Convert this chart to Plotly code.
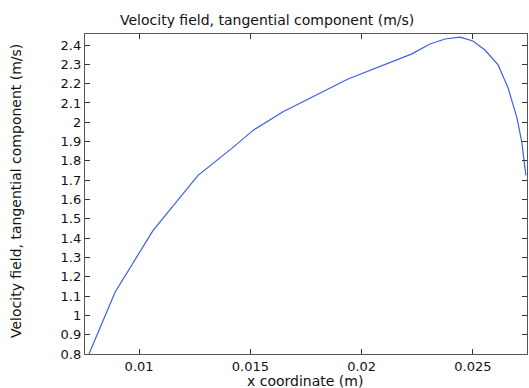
import plotly.graph_objects as go

x_m = [0.00775, 0.00892, 0.01063, 0.01265, 0.01418, 0.01512, 0.01647, 0.01939,
       0.02226, 0.02307, 0.02375, 0.02442, 0.02500, 0.02554, 0.02613, 0.02658,
       0.02698, 0.02720, 0.02738]
v_t = [0.800, 1.120, 1.440, 1.725, 1.866, 1.958, 2.054, 2.224,
       2.354, 2.405, 2.431, 2.441, 2.421, 2.374, 2.297, 2.178,
       2.023, 1.894, 1.725]

x_ticks = [0.01, 0.015, 0.02, 0.025]
x_tick_text = ["0.01", "0.015", "0.02", "0.025"]
y_ticks = [0.8, 0.9, 1.0, 1.1, 1.2, 1.3, 1.4, 1.5, 1.6, 1.7, 1.8, 1.9, 2.0, 2.1, 2.2, 2.3, 2.4]
y_tick_text = ["0.8", "0.9", "1", "1.1", "1.2", "1.3", "1.4", "1.5", "1.6", "1.7",
               "1.8", "1.9", "2", "2.1", "2.2", "2.3", "2.4"]

title_text = "Velocity field, tangential component (m/s)"
x_title = "x coordinate (m)"
y_title = "Velocity field, tangential component (m/s)"

font = "DejaVu Sans"
fig = go.Figure()
fig.add_trace(go.Scatter(x=x_m, y=v_t, mode="lines",
                         line=dict(color="#3d5fe6", width=1.2),
                         showlegend=False, hoverinfo="skip"))

axis_common = dict(showgrid=False, zeroline=False, showline=True, linecolor="#555555",
                   linewidth=1.3, mirror="ticks", ticks="inside", ticklen=5,
                   tickcolor="#333333", tickwidth=1.3,
                   tickfont=dict(family=font, size=13, color="#111111"))

fig.update_layout(
    width=529, height=388,
    margin=dict(l=85, r=2, t=34, b=34),
    paper_bgcolor="white", plot_bgcolor="white",
    xaxis=dict(range=[0.00757, 0.02743], tickvals=x_ticks, ticktext=x_tick_text,
               ticklabelstandoff=0, **axis_common),
    yaxis=dict(range=[0.8, 2.457], tickvals=y_ticks, ticktext=y_tick_text,
               **axis_common),
    annotations=[
        dict(text=title_text, xref="paper", yref="paper", x=(267 - 85) / 442,
             y=1, yshift=4, xanchor="center", yanchor="bottom", showarrow=False,
             font=dict(family=font, size=14, color="#111111")),
        dict(text=x_title, xref="paper", yref="paper", x=(305 - 85) / 442,
             y=0, yshift=-(381 - 354), xanchor="center", yanchor="middle", showarrow=False,
             font=dict(family=font, size=14, color="#111111")),
        dict(text=y_title, xref="paper", yref="paper", x=0, xshift=-(85 - 16),
             y=(354 - 191) / 320, textangle=-90, xanchor="center", yanchor="middle",
             showarrow=False, font=dict(family=font, size=14, color="#111111")),
    ],
)

fig.write_html("out.html")
